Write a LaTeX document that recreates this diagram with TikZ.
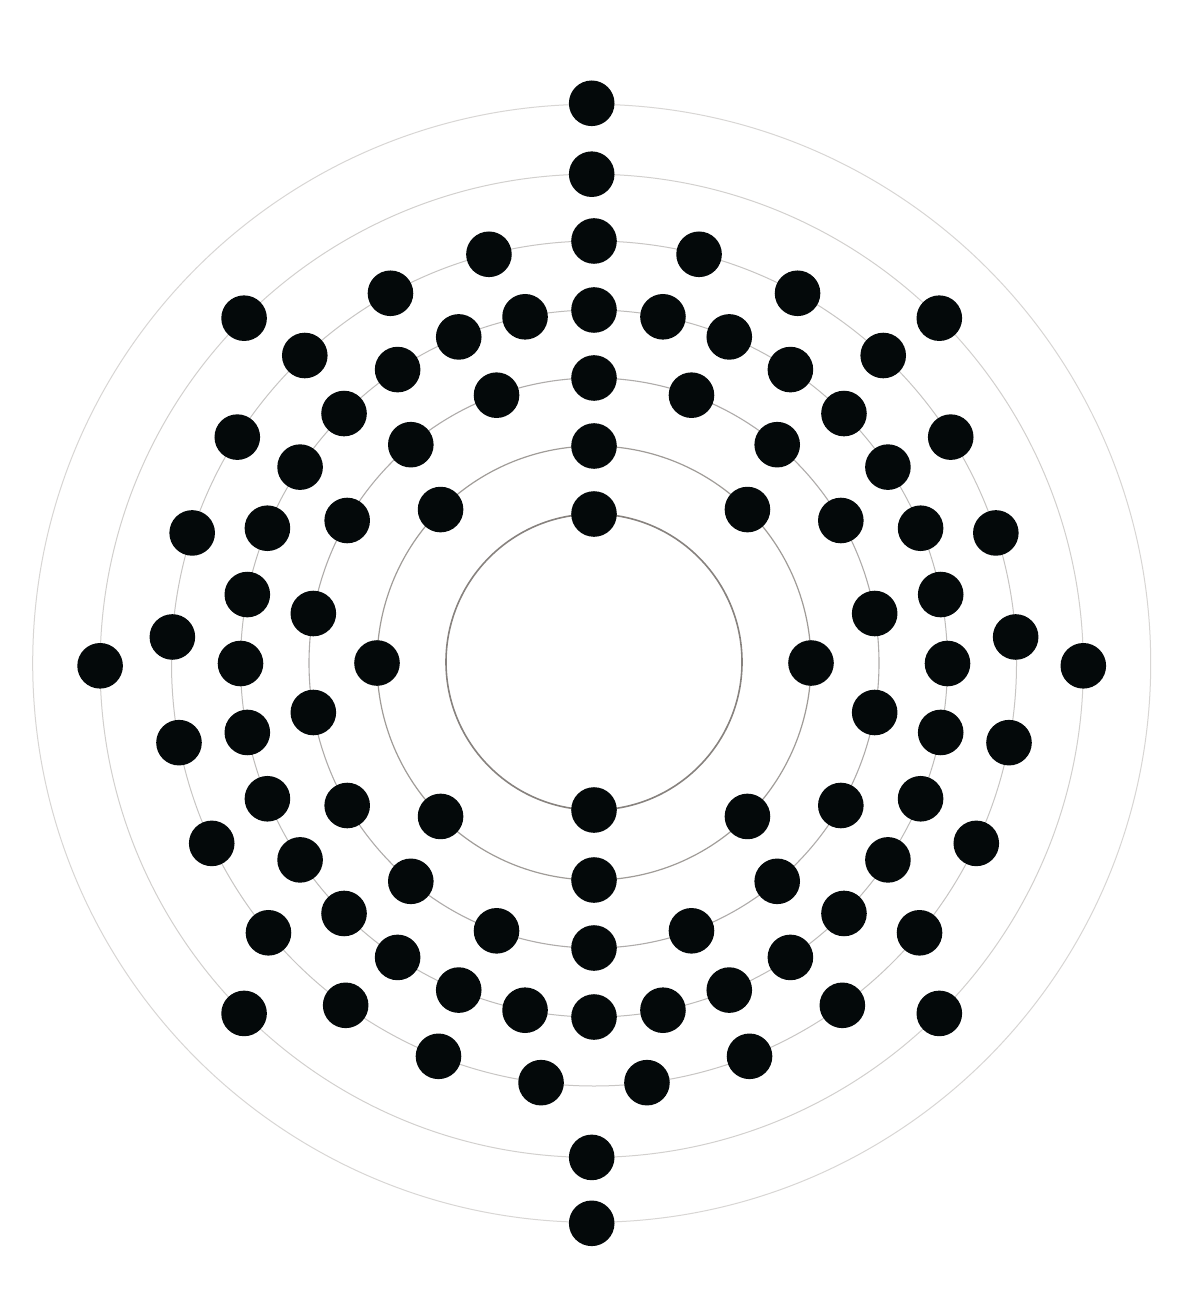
\documentclass[tikz,border=0pt]{standalone}
\definecolor{dotcol}{RGB}{4,9,10}
\definecolor{ring1}{RGB}{135,130,126}
\definecolor{ring2}{RGB}{160,156,152}
\definecolor{ring3}{RGB}{175,172,170}
\definecolor{ring4}{RGB}{190,188,186}
\definecolor{ring5}{RGB}{200,198,196}
\definecolor{ring6}{RGB}{210,208,206}
\definecolor{ring7}{RGB}{216,214,212}
\tikzset{
  electron/.style={circle, fill=dotcol, draw=none, inner sep=0pt, minimum size=22.8pt},
}
\begin{document}
\begin{tikzpicture}[x=0.5pt,y=-0.5pt]
\useasboundingbox (0,0) rectangle (1200,1315);
\fill[white] (0,0) rectangle (1200,1315);
% shell rings
\foreach \cx/\cy/\r/\s/\w in {594/662/148/1/0.8pt, 594/663/217/2/0.6pt, 594/663/285/3/0.55pt, 594/663.5/353.5/4/0.5pt, 594/663.5/422.5/5/0.5pt, 591.7/665.8/491.6/6/0.5pt, 591.7/663.3/559/7/0.5pt}{
  \draw[ring\s, line width=\w] (\cx,\cy) circle[radius=\r];
}
% electrons
\foreach \cx/\cy/\r/\n/\s in {594/662/148/2/1, 594/663/217/8/2, 594/663/285/18/3, 594/663.5/353.5/32/4, 594/663.5/422.5/25/5, 591.7/665.8/491.6/8/6, 591.7/663.3/560/2/7}{
  \foreach \k in {1,...,\n}{
    \node[electron] (e\s-\k) at ({\cx+\r*sin(360*(\k-1)/\n)},{\cy-\r*cos(360*(\k-1)/\n)}) {};
  }
}
\end{tikzpicture}
\end{document}
